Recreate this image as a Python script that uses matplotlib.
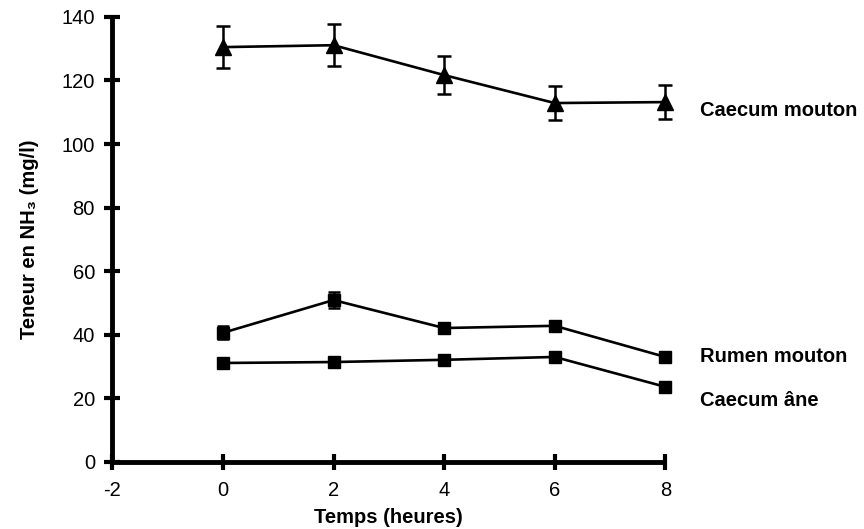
import matplotlib
matplotlib.use("Agg")
import matplotlib.pyplot as plt

plt.rcParams['font.family'] = ['Liberation Sans', 'DejaVu Sans']
plt.rcParams['axes.unicode_minus'] = False

# Sampling times (hours)
temps = [0, 2, 4, 6, 8]

# NH3 content (mg/l) and standard errors
caecum_mouton = [130.5, 131.1, 121.7, 112.9, 113.2]
caecum_mouton_err = [6.6, 6.6, 6.1, 5.4, 5.4]

rumen_mouton = [40.6, 50.9, 42.1, 42.8, 33.0]
rumen_mouton_err = [2.0, 2.5, 1.5, 1.5, 1.0]

caecum_ane = [31.1, 31.4, 32.1, 33.0, 23.6]

series_labels = ["Caecum mouton", "Rumen mouton", "Caecum âne"]
x_ticks = [-2, 0, 2, 4, 6, 8]
y_ticks = [0, 20, 40, 60, 80, 100, 120, 140]

fig = plt.figure(figsize=(8.64, 5.29), dpi=100)
ax = fig.add_axes([0.130, 0.127, 0.640, 0.841])

line_kw = dict(color='black', linewidth=1.9, clip_on=False, zorder=3)
ax.errorbar(temps, caecum_mouton, yerr=caecum_mouton_err, marker='^',
            markersize=11, capsize=5, capthick=1.8, elinewidth=1.8, **line_kw)
ax.errorbar(temps, rumen_mouton, yerr=rumen_mouton_err, marker='s',
            markersize=8.5, capsize=4, capthick=1.8, elinewidth=1.8, **line_kw)
ax.plot(temps, caecum_ane, marker='s', markersize=9, **line_kw)

# Series names written to the right of the last point of each curve
label_offsets = [(25, -6), (25, 0), (25, -10)]
for name, values, off in zip(series_labels,
                             [caecum_mouton, rumen_mouton, caecum_ane],
                             label_offsets):
    ax.annotate(name, xy=(temps[-1], values[-1]), xytext=off,
                textcoords='offset points', ha='left', va='center',
                fontsize=14.5, fontweight='bold', annotation_clip=False)

ax.set_xlim(-2, 8)
ax.set_ylim(0, 140)
ax.set_xticks(x_ticks)
ax.set_yticks(y_ticks)

for side in ('top', 'right'):
    ax.spines[side].set_visible(False)
for side in ('left', 'bottom'):
    ax.spines[side].set_linewidth(3.5)
    ax.spines[side].set_capstyle('butt')

ax.tick_params(axis='both', direction='inout', length=11, width=3,
               labelsize=14.5)
ax.tick_params(axis='x', pad=8)
ax.tick_params(axis='y', pad=7)

ax.set_xlabel("Temps (heures)", fontsize=14.5, fontweight='bold', labelpad=6)
ax.set_ylabel("Teneur en NH₃ (mg/l)", fontsize=14.5, fontweight='bold',
              labelpad=16)

fig.savefig("out.png", dpi=100, facecolor='white')
